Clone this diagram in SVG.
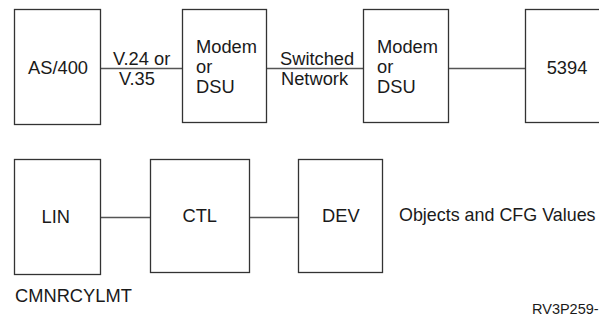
<svg xmlns="http://www.w3.org/2000/svg" width="599" height="324" viewBox="0 0 599 324">
<style>
  .box { fill: #ffffff; stroke: #333333; stroke-width: 1.3; }
  .conn { stroke: #555555; stroke-width: 1.3; fill: none; }
  text { font-family: "Liberation Sans", Arial, Helvetica, sans-serif; font-size: 18.3px; fill: #1a1a1a; }
  .c { text-anchor: middle; }
  .small { font-size: 14.5px; }
  .note { font-size: 17.9px; }
</style>
<rect width="599" height="324" fill="#ffffff"/>
<g id="connectors">
  <line class="conn" x1="100.5" y1="68.5" x2="182.5" y2="68.5"/>
  <line class="conn" x1="266.5" y1="68.5" x2="363.5" y2="68.5"/>
  <line class="conn" x1="448.5" y1="68.5" x2="525.5" y2="68.5"/>
  <line class="conn" x1="100.5" y1="217.5" x2="150.5" y2="217.5"/>
  <line class="conn" x1="249.5" y1="217.5" x2="298.5" y2="217.5"/>
  <text x="113" y="65">V.24 or</text>
  <text x="119" y="85">V.35</text>
  <text x="280" y="65">Switched</text>
  <text x="281" y="85">Network</text>
</g>
<g id="as400">
  <rect class="box" x="14.5" y="9.5" width="86" height="115"/>
  <text class="c" x="58" y="74">AS/400</text>
</g>
<g id="modem1">
  <rect class="box" x="182.5" y="9.5" width="84" height="113"/>
  <text x="196" y="53">Modem</text>
  <text x="196" y="73">or</text>
  <text x="196" y="93">DSU</text>
</g>
<g id="modem2">
  <rect class="box" x="363.5" y="9.5" width="85" height="113"/>
  <text x="377" y="53">Modem</text>
  <text x="377" y="73">or</text>
  <text x="377" y="93">DSU</text>
</g>
<g id="n5394">
  <rect class="box" x="525.5" y="9.5" width="100" height="113"/>
  <text class="c" x="567" y="74">5394</text>
</g>
<g id="lin">
  <rect class="box" x="14.5" y="159.5" width="86" height="115"/>
  <text x="41.5" y="223">LIN</text>
</g>
<g id="ctl">
  <rect class="box" x="150.5" y="159.5" width="99" height="113"/>
  <text x="182.5" y="222">CTL</text>
</g>
<g id="dev">
  <rect class="box" x="298.5" y="159.5" width="84" height="113"/>
  <text x="322" y="222">DEV</text>
</g>
<text class="note" x="399" y="221">Objects and CFG Values</text>
<text x="15" y="302">CMNRCYLMT</text>
<text class="small" x="532" y="314">RV3P259-</text>
</svg>
